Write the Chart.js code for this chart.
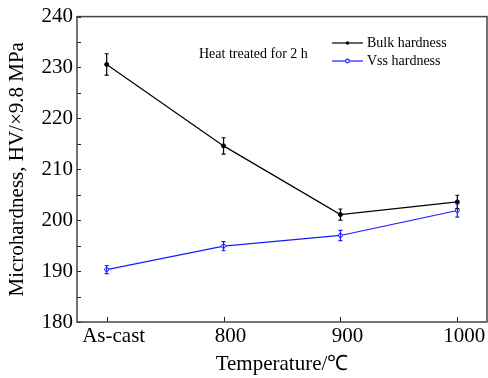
<!DOCTYPE html>
<html>
<head>
<meta charset="utf-8">
<script src="https://cdn.jsdelivr.net/npm/chart.js@4.4.1/dist/chart.umd.min.js"></script>
<style>
  html, body { margin: 0; padding: 0; background: #fff; overflow: hidden; }
  #wrap { width: 488px; height: 378px; overflow: hidden; }
</style>
</head>
<body>
<div id="wrap"><canvas id="hardChart" width="492" height="378"></canvas></div>
<script>
var categories = ["As-cast", "800", "900", "1000"];
var bulkHardness = [230.6, 214.6, 201.1, 203.6];
var bulkError = [2.1, 1.6, 1.1, 1.3];
var vssHardness = [190.3, 194.9, 197.0, 201.9];
var vssError = [0.8, 0.9, 1.0, 1.3];
var yTicks = [180, 190, 200, 210, 220, 230, 240];

var serif = "'Liberation Serif', 'Times New Roman', serif";

function points(vals) {
  return vals.map(function (v, i) { return { x: i, y: v }; });
}

// error bars, inward ticks, frame and legend
var decorPlugin = {
  id: "decor",
  afterDatasetsDraw: function (chart) {
    var ctx = chart.ctx, a = chart.chartArea;
    var xs = chart.scales.x, ys = chart.scales.y;
    var errs = [bulkError, vssError];
    ctx.save();
    chart.data.datasets.forEach(function (ds, di) {
      ctx.strokeStyle = ds.borderColor;
      ctx.lineWidth = 1.2;
      ds.data.forEach(function (p, i) {
        var px = xs.getPixelForValue(p.x);
        var top = ys.getPixelForValue(p.y + errs[di][i]);
        var bot = ys.getPixelForValue(p.y - errs[di][i]);
        ctx.beginPath();
        ctx.moveTo(px, top); ctx.lineTo(px, bot);
        ctx.moveTo(px - 2, top); ctx.lineTo(px + 2, top);
        ctx.moveTo(px - 2, bot); ctx.lineTo(px + 2, bot);
        ctx.stroke();
      });
    });

    // ticks pointing inside
    ctx.strokeStyle = "#222";
    ctx.lineWidth = 1;
    ctx.beginPath();
    for (var v = 180; v <= 240; v += 5) {
      var py = Math.round(ys.getPixelForValue(v)) + 0.5;
      ctx.moveTo(a.left, py); ctx.lineTo(a.left + 4, py);
    }
    categories.forEach(function (c, i) {
      var px = Math.round(xs.getPixelForValue(i)) + 0.5;
      ctx.moveTo(px, a.bottom); ctx.lineTo(px, a.bottom - 5);
    });
    ctx.stroke();

    // frame
    ctx.strokeStyle = "#444";
    ctx.lineWidth = 1.5;
    ctx.strokeRect(a.left, a.top, a.right - a.left, a.bottom - a.top);

    // note and legend
    ctx.fillStyle = "#000";
    ctx.font = "14px " + serif;
    ctx.textBaseline = "middle";
    ctx.textAlign = "left";
    ctx.fillText("Heat treated for 2 h", 199, 54);
    var rows = [["Bulk hardness", "#000", true], ["Vss hardness", "#1a1aff", false]];
    rows.forEach(function (r, i) {
      var y = 43 + i * 18;
      ctx.strokeStyle = r[1];
      ctx.lineWidth = 1.2;
      ctx.beginPath();
      ctx.moveTo(332, y); ctx.lineTo(363, y);
      ctx.stroke();
      ctx.beginPath();
      ctx.arc(347.5, y, 1.8, 0, Math.PI * 2);
      if (r[2]) { ctx.fillStyle = r[1]; ctx.fill(); }
      else { ctx.fillStyle = "#fff"; ctx.fill(); ctx.stroke(); }
      ctx.fillStyle = "#000";
      ctx.fillText(r[0], 367, y);
    });
    ctx.restore();
  }
};

var ctx = document.getElementById("hardChart").getContext("2d");
var hardChart = new Chart(ctx, {
  type: "line",
  data: {
    datasets: [
      {
        label: "Bulk hardness",
        data: points(bulkHardness),
        borderColor: "#000",
        backgroundColor: "#000",
        borderWidth: 1.2,
        pointRadius: 2,
        pointBorderWidth: 1,
        tension: 0
      },
      {
        label: "Vss hardness",
        data: points(vssHardness),
        borderColor: "#1a1aff",
        backgroundColor: "#fff",
        borderWidth: 1.2,
        pointRadius: 2,
        pointBorderWidth: 1,
        tension: 0
      }
    ]
  },
  options: {
    responsive: false,
    animation: false,
    layout: { padding: { top: 15, right: 1, left: 0, bottom: 0 } },
    plugins: {
      legend: { display: false },
      tooltip: { enabled: false }
    },
    scales: {
      x: {
        type: "linear",
        min: -0.254,
        max: 3.254,
        afterBuildTicks: function (scale) {
          scale.ticks = categories.map(function (c, i) { return { value: i }; });
        },
        afterFit: function (scale) {
          scale.height = 56;
          scale.paddingLeft = 0;
          scale.paddingRight = 0;
        },
        grid: { display: false, drawTicks: false },
        border: { display: false },
        ticks: {
          color: "#000",
          padding: 2,
          labelOffset: 7,
          maxRotation: 0,
          autoSkip: false,
          font: { family: serif, size: 21 },
          callback: function (v) { return categories[v]; }
        },
        title: {
          display: true,
          text: "Temperature/\u2103",
          color: "#000",
          padding: { top: 0, bottom: 1 },
          font: { family: serif, size: 21 }
        }
      },
      y: {
        min: 180,
        max: 240,
        afterBuildTicks: function (scale) {
          scale.ticks = yTicks.map(function (v) { return { value: v }; });
        },
        afterFit: function (scale) { scale.width = 77; },
        grid: { display: false, drawTicks: false },
        border: { display: false },
        ticks: {
          color: "#000",
          padding: 4,
          font: { family: serif, size: 21 }
        },
        title: {
          display: true,
          text: "Microhardness, HV/\u00d79.8 MPa",
          color: "#000",
          padding: { top: 5, bottom: 0 },
          font: { family: serif, size: 21 }
        }
      }
    }
  },
  plugins: [decorPlugin]
});
</script>
</body>
</html>
